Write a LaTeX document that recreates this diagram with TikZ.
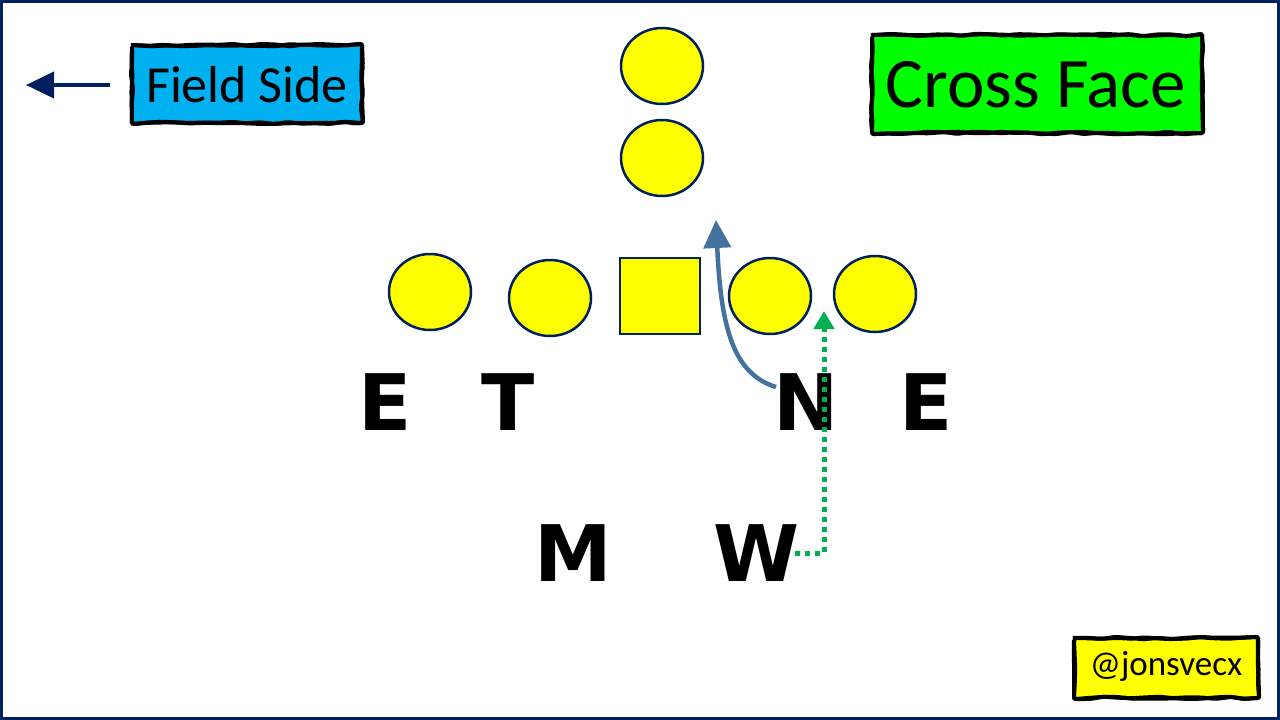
\documentclass[tikz,border=0pt]{standalone}
\usepackage{fontspec}
\setmainfont{Carlito}
\newfontfamily\letterfont{DejaVu Sans}
\usetikzlibrary{shapes.geometric,arrows.meta,decorations.pathmorphing}
\definecolor{navy}{HTML}{002060}
\definecolor{fieldblue}{HTML}{00B0F0}
\definecolor{facegreen}{HTML}{00FF00}
\definecolor{dotgreen}{HTML}{00B050}
\definecolor{pathblue}{HTML}{45719E}
\definecolor{playeryellow}{HTML}{FFFF00}
\begin{document}
\begin{tikzpicture}[
	x=1pt, y=-1pt,
	player/.style={ ellipse, draw=navy, line width=2.5pt, fill=playeryellow, inner sep=0pt, minimum width=82pt, minimum height=76pt },
	center/.style={ rectangle, draw=navy, line width=2.5pt, fill=playeryellow, inner sep=0pt, minimum width=80pt, minimum height=76pt },
	defender/.style={ inner sep=0pt, font=\letterfont\bfseries\fontsize{78}{78}\selectfont },
	tag/.style={ draw=black, line width=4pt, inner sep=0pt, decorate, decoration={random steps, segment length=14pt, amplitude=1.3pt}, rounded corners=2pt }
]

\useasboundingbox (0,0) rectangle (1280,720);
\draw[navy, line width=3pt] (1.5,1.5) rectangle (1278.5,718.5);

\node at (662,66) (qb) [player] {};
\node at (662,158) (rb) [player] {};
\node at (430,292) (lt) [player] {};
\node at (550,298) (lg) [player] {};
\node at (660,296) (c) [center] {};
\node at (770,296) (rg) [player] {};
\node at (875,294) (rt) [player] {};

\node at (385,402) (e1) [defender] {E};
\node at (508,402) (t) [defender] {T};
\node at (806,402) (n) [defender] {N};
\node at (926,402) (e2) [defender] {E};
\node at (573,553) (m) [defender] {M};
\node at (757,553) (w) [defender] {W};

\coordinate (nstart) at (776,387);
\coordinate (ntip) at (716,220);
\draw[pathblue, line width=4.5pt, -{Triangle[length=28pt,width=27pt]}] (nstart) .. controls (734,374) and (721,330) .. (ntip);

\coordinate (wstart) at (795,553);
\coordinate (wtip) at (824,311);
\draw[dotgreen, line width=5pt, dash pattern=on 5pt off 5pt, -{Triangle[length=18pt,width=20pt]}] (wstart) -| (wtip);

\fill[tag, fill=fieldblue] (132,45) rectangle (362,123);
\node at (247,85) (field) {\fontsize{52}{52}\selectfont Field Side};
\draw[tag] (132,45) rectangle (362,123);
\coordinate (fieldtip) at (26,85);
\draw[navy, line width=4pt, -{Triangle[length=28pt,width=26pt]}] (110,85) to (fieldtip);

\fill[tag, fill=facegreen] (872,35) rectangle (1202,133);
\node at (1036,85) (face) {\fontsize{71}{71}\selectfont Cross Face};
\draw[tag] (872,35) rectangle (1202,133);

\fill[tag, fill=playeryellow] (1074,638) rectangle (1258,698);
\node at (1166,666) (handle) {\fontsize{35}{35}\selectfont @jonsvecx};
\draw[tag] (1074,638) rectangle (1258,698);

\end{tikzpicture}
\end{document}
